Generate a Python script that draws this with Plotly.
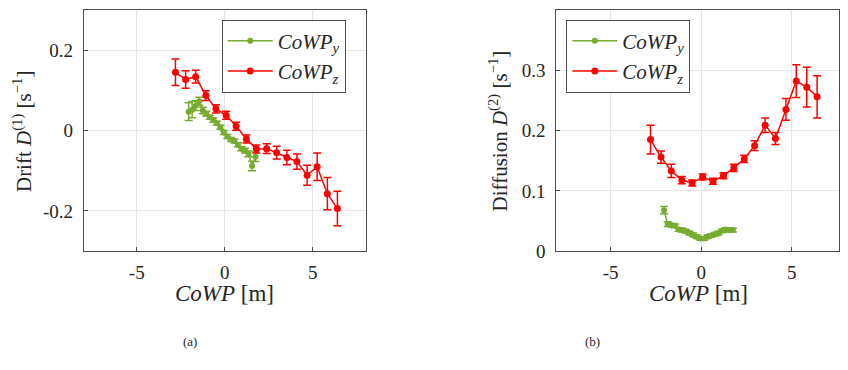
import plotly.graph_objects as go

# =========================================================
# Data
# =========================================================
x_z = [-2.8, -2.22, -1.65, -1.07, -0.5, 0.08, 0.65, 1.23, 1.8, 2.38,
       2.95, 3.53, 4.1, 4.68, 5.25, 5.83, 6.4]
drift_z = [0.145, 0.127, 0.134, 0.087, 0.054, 0.038, 0.011, -0.021, -0.046, -0.045,
           -0.055, -0.067, -0.077, -0.111, -0.09, -0.157, -0.194]
drift_z_err = [0.033, 0.022, 0.016, 0.012, 0.01, 0.01, 0.01, 0.01, 0.01, 0.012,
               0.016, 0.018, 0.019, 0.025, 0.034, 0.04, 0.043]
diff_z = [0.185, 0.156, 0.133, 0.118, 0.113, 0.123, 0.116, 0.125, 0.138, 0.153,
          0.175, 0.209, 0.187, 0.235, 0.282, 0.272, 0.256]
diff_z_err = [0.024, 0.01, 0.011, 0.006, 0.005, 0.005, 0.005, 0.005, 0.006, 0.006,
              0.008, 0.012, 0.01, 0.018, 0.027, 0.033, 0.035]

x_y = [-2.05, -1.85, -1.65, -1.45, -1.25, -1.05, -0.85, -0.65, -0.45, -0.25,
       -0.05, 0.15, 0.35, 0.55, 0.75, 0.95, 1.15, 1.35, 1.55, 1.75]
drift_y = [0.047, 0.052, 0.062, 0.073, 0.05, 0.042, 0.033, 0.026, 0.018, 0.008,
           -0.005, -0.015, -0.022, -0.026, -0.035, -0.045, -0.05, -0.058, -0.088, -0.065]
drift_y_err = [0.022, 0.02, 0.012, 0.01, 0.008, 0.006, 0.005, 0.005, 0.005, 0.005,
               0.005, 0.005, 0.005, 0.005, 0.005, 0.005, 0.006, 0.007, 0.012, 0.012]
diff_y = [0.068, 0.045, 0.043, 0.042, 0.036, 0.035, 0.033, 0.03, 0.027, 0.024,
          0.021, 0.021, 0.024, 0.026, 0.028, 0.03, 0.034, 0.036, 0.035, 0.035]
diff_y_err = [0.006, 0.004, 0.003, 0.003, 0.003, 0.003, 0.003, 0.003, 0.003, 0.003,
              0.003, 0.003, 0.003, 0.003, 0.003, 0.003, 0.003, 0.003, 0.003, 0.003]

x_ticks = [-5, 0, 5]
x_ticktext = ["-5", "0", "5"]
drift_ticks = [-0.2, 0, 0.2]
drift_ticktext = ["-0.2", "0", "0.2"]
diff_ticks = [0, 0.1, 0.2, 0.3, 0.4]
diff_ticktext = ["0", "0.1", "0.2", "0.3", "0.4"]

GREEN = "#77AC30"
RED = "#FF0000"
FONT = "Liberation Serif, serif"

# the page keeps the browser's 8px body margin, so the figure is 16px
# smaller than the window and positions are given in window pixels
PAD = 8
W, H = 848 - 2 * PAD, 370 - 2 * PAD


def px_x(p):
    return min(max((p - PAD) / W, 0), 1)


def px_y(p):
    return min(max(1 - (p - PAD) / H, 0), 1)


def add_series(fig, x, y, err, color, name, xa, ya, legend, msize):
    fig.add_trace(go.Scatter(
        x=x, y=y, mode="lines+markers", name=name,
        xaxis=xa, yaxis=ya, legend=legend,
        line=dict(color=color, width=1.5),
        marker=dict(color=color, size=msize),
        error_y=dict(type="data", array=err, color=color, thickness=1.5, width=4),
    ))


fig = go.Figure()
name_y = "<i>CoWP</i><sub><i>y</i></sub>"
name_z = "<i>CoWP</i><sub><i>z</i></sub>"

add_series(fig, x_y, drift_y, drift_y_err, GREEN, name_y, "x", "y", "legend", 6)
add_series(fig, x_z, drift_z, drift_z_err, RED, name_z, "x", "y", "legend", 7)
add_series(fig, x_y, diff_y, diff_y_err, GREEN, name_y, "x2", "y2", "legend2", 6)
add_series(fig, x_z, diff_z, diff_z_err, RED, name_z, "x2", "y2", "legend2", 7)

axis_common = dict(
    showline=True, mirror=True, linecolor="#4d4d4d", linewidth=1,
    showgrid=True, gridcolor="#e6e6e6", gridwidth=1, zeroline=False,
    ticks="inside", ticklen=4, tickcolor="#4d4d4d",
    tickfont=dict(family=FONT, size=19, color="#262626"),
)

fig.update_layout(
    width=W, height=H,
    margin=dict(l=0, r=0, t=0, b=0),
    paper_bgcolor="white", plot_bgcolor="white",
    font=dict(family=FONT, color="#262626"),
    xaxis=dict(domain=[px_x(84), px_x(366)], range=[-8, 8], anchor="y",
               tickvals=x_ticks, ticktext=x_ticktext, ticklabelstandoff=4, **axis_common),
    yaxis=dict(domain=[px_y(259), px_y(10)], range=[-0.3, 0.3], anchor="x",
               tickvals=drift_ticks, ticktext=drift_ticktext, ticklabelstandoff=6, **axis_common),
    # right panel reaches the window edge in the reference; the page margin
    # cuts the last few pixels, so the range stops a little short of 8
    xaxis2=dict(domain=[px_x(557), px_x(840)], range=[-8, 7.61], anchor="y2",
                tickvals=x_ticks, ticktext=x_ticktext, ticklabelstandoff=4, **axis_common),
    yaxis2=dict(domain=[px_y(259), px_y(10)], range=[0, 0.4], anchor="x2",
                tickvals=diff_ticks, ticktext=diff_ticktext, ticklabelstandoff=6, **axis_common),
    legend=dict(x=px_x(222), y=px_y(20), xanchor="left", yanchor="top",
                bgcolor="white", bordercolor="#4d4d4d", borderwidth=1,
                font=dict(family=FONT, size=21), itemwidth=45, tracegroupgap=0),
    legend2=dict(x=px_x(567), y=px_y(20), xanchor="left", yanchor="top",
                 bgcolor="white", bordercolor="#4d4d4d", borderwidth=1,
                 font=dict(family=FONT, size=21), itemwidth=45, tracegroupgap=0),
)

# axis titles and sub-captions
titles = [
    ("<i>CoWP</i> [m]", px_x(225), px_y(303), 0, 23),
    ("<i>CoWP</i> [m]", px_x(699), px_y(303), 0, 23),
    ("Drift <i>D</i><sup>(1)</sup> [s<sup>−1</sup>]", px_x(22), px_y(135), -90, 21),
    ("Diffusion <i>D</i><sup>(2)</sup> [s<sup>−1</sup>]", px_x(499), px_y(135), -90, 21),
    ("(a)", px_x(190), px_y(352), 0, 13),
    ("(b)", px_x(593), px_y(352), 0, 13),
]
for text, x, y, ang, size in titles:
    fig.add_annotation(text=text, x=x, y=y, xref="paper", yref="paper",
                       xanchor="center", yanchor="middle", textangle=ang,
                       showarrow=False, font=dict(family=FONT, size=size, color="#262626"))

fig.write_html("out.html")
